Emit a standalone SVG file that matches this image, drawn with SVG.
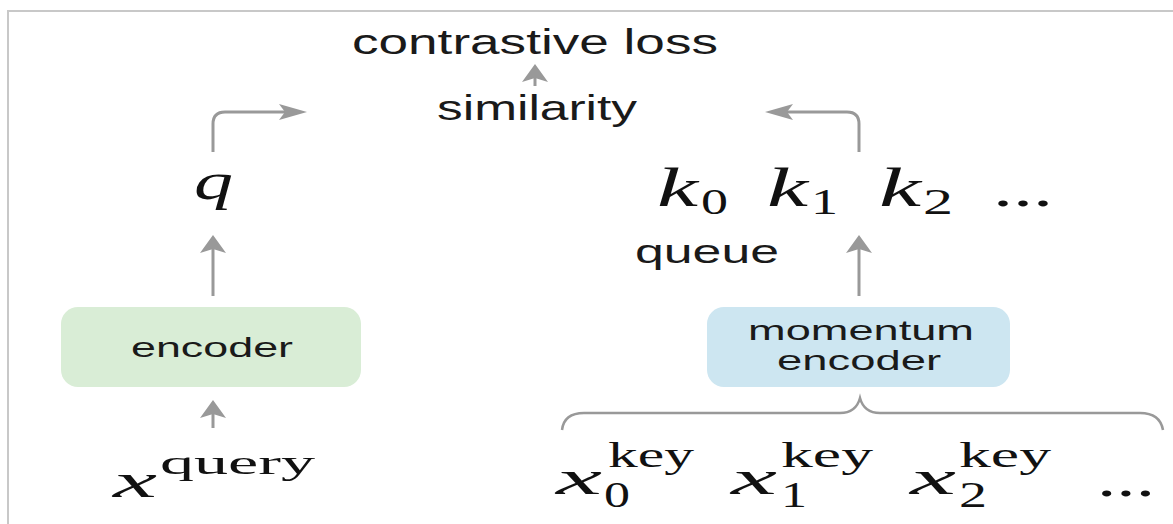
<svg xmlns="http://www.w3.org/2000/svg" xmlns:xlink="http://www.w3.org/1999/xlink" width="1173" height="524" viewBox="0 0 1173 524">
<style>
.sans{font-family:"Liberation Sans",Arial,sans-serif;fill:#1a1a1a}
.mi{font-family:"Liberation Serif","Times New Roman",serif;font-style:italic;fill:#111}
.mr{font-family:"Liberation Serif","Times New Roman",serif;fill:#111}
.line{fill:none;stroke:#999;stroke-width:3}
.head{fill:#999}
.frame{fill:none;stroke:#c8c8c8;stroke-width:2}
</style>
<defs>
<path id="headUp" class="head" d="M0,0 L-13,18 L0,14 L13,18 Z"/>
<path id="headRight" class="head" d="M0,0 L-28,-8 L-22,0 L-28,8 Z"/>
<path id="headLeft" class="head" d="M0,0 L28,-8 L22,0 L28,8 Z"/>
</defs>
<rect width="1173" height="524" fill="#fff"/>
<path class="frame" d="M8,524 L8,11 L1173,11"/>

<g id="connectors">
<path class="line" d="M535,86 L535,74"/>
<use xlink:href="#headUp" x="535" y="64"/>
<path class="line" d="M213,152 L213,124 Q213,112 225,112 L288,112"/>
<use xlink:href="#headRight" x="307" y="112"/>
<path class="line" d="M859,152 L859,124 Q859,112 847,112 L784,112"/>
<use xlink:href="#headLeft" x="765" y="112"/>
<path class="line" d="M213,296 L213,248"/>
<use xlink:href="#headUp" x="213" y="235"/>
<path class="line" d="M213,428 L213,412"/>
<use xlink:href="#headUp" x="213" y="400"/>
<path class="line" d="M859,296 L859,248"/>
<use xlink:href="#headUp" x="859" y="235"/>
<path class="line" style="stroke-width:2.5" d="M562,430 Q564,413 584,413 L840,413 Q856,413 860,398 Q864,413 880,413 L1140,413 Q1160,413 1163,430"/>
</g>

<g id="contrastive_loss">
<text class="sans" x="352" y="54" font-size="35" textLength="366" lengthAdjust="spacingAndGlyphs">contrastive loss</text>
</g>
<g id="similarity">
<text class="sans" x="437" y="120" font-size="35" textLength="200" lengthAdjust="spacingAndGlyphs">similarity</text>
</g>
<g id="q">
<text class="mi" x="194" y="199" font-size="52" textLength="39" lengthAdjust="spacingAndGlyphs">q</text>
</g>
<g id="encoder">
<rect x="61" y="307" width="300" height="80" rx="17" fill="#d9edd6"/>
<text class="sans" x="131" y="357" font-size="28" textLength="162" lengthAdjust="spacingAndGlyphs">encoder</text>
</g>
<g id="x_query">
<text class="mi" x="113" y="497" font-size="48" textLength="44" lengthAdjust="spacingAndGlyphs">x</text>
<text class="mr" x="160" y="474" font-size="34" textLength="155" lengthAdjust="spacingAndGlyphs">query</text>
</g>
<g id="keys">
<text class="mi" x="657" y="206" font-size="54" textLength="41" lengthAdjust="spacingAndGlyphs">k</text>
<text class="mr" x="701" y="214" font-size="36" textLength="27" lengthAdjust="spacingAndGlyphs">0</text>
<text class="mi" x="767" y="206" font-size="54" textLength="41" lengthAdjust="spacingAndGlyphs">k</text>
<text class="mr" x="811" y="214" font-size="36" textLength="27" lengthAdjust="spacingAndGlyphs">1</text>
<text class="mi" x="879" y="206" font-size="54" textLength="42" lengthAdjust="spacingAndGlyphs">k</text>
<text class="mr" x="923" y="214" font-size="36" textLength="30" lengthAdjust="spacingAndGlyphs">2</text>
<text class="mr" x="993" y="206" font-size="50" textLength="60" lengthAdjust="spacingAndGlyphs">...</text>
</g>
<g id="queue">
<text class="sans" x="635" y="263" font-size="33" textLength="144" lengthAdjust="spacingAndGlyphs">queue</text>
</g>
<g id="momentum_encoder">
<rect x="707" y="307" width="303" height="80" rx="17" fill="#cde6f1"/>
<text class="sans" x="748" y="340" font-size="28" textLength="226" lengthAdjust="spacingAndGlyphs">momentum</text>
<text class="sans" x="777" y="370" font-size="28" textLength="164" lengthAdjust="spacingAndGlyphs">encoder</text>
</g>
<g id="x_keys">
<text class="mi" x="556" y="494" font-size="48" textLength="46" lengthAdjust="spacingAndGlyphs">x</text>
<text class="mr" x="604" y="507" font-size="36" textLength="26" lengthAdjust="spacingAndGlyphs">0</text>
<text class="mr" x="608" y="467" font-size="36" textLength="86" lengthAdjust="spacingAndGlyphs">key</text>
<text class="mi" x="731" y="494" font-size="48" textLength="46" lengthAdjust="spacingAndGlyphs">x</text>
<text class="mr" x="781" y="507" font-size="36" textLength="26" lengthAdjust="spacingAndGlyphs">1</text>
<text class="mr" x="781" y="467" font-size="36" textLength="92" lengthAdjust="spacingAndGlyphs">key</text>
<text class="mi" x="910" y="494" font-size="48" textLength="46" lengthAdjust="spacingAndGlyphs">x</text>
<text class="mr" x="959" y="507" font-size="36" textLength="28" lengthAdjust="spacingAndGlyphs">2</text>
<text class="mr" x="959" y="467" font-size="36" textLength="92" lengthAdjust="spacingAndGlyphs">key</text>
<text class="mr" x="1097" y="496" font-size="50" textLength="58" lengthAdjust="spacingAndGlyphs">...</text>
</g>
</svg>
